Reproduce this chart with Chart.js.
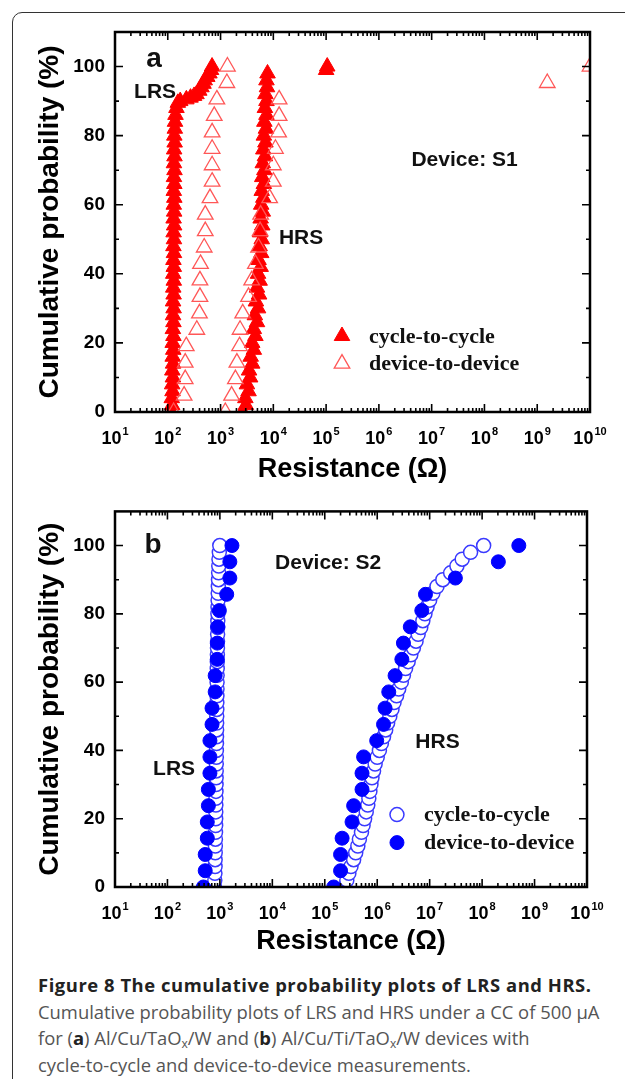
<!DOCTYPE html>
<html>
<head>
<meta charset="utf-8">
<script src="https://cdn.jsdelivr.net/npm/chart.js@4.4.1/dist/chart.umd.min.js"></script>
<style>
  html, body { margin: 0; padding: 0; background: #fff; }
  body { width: 625px; height: 1079px; overflow: hidden; position: relative; }
  #frame { position: absolute; left: 12px; top: 12px; width: 720px; height: 1100px; border: 1.5px solid #333; border-radius: 10px; }
  #chartA { position: absolute; left: 0; top: 0; }
  #chartB { position: absolute; left: 0; top: 490px; }
  #cap { position: absolute; left: 38px; top: 972px; font-family: "Open Sans", sans-serif; font-size: 18.4px; line-height: 26.5px; color: #555; white-space: nowrap; }
  #cap b { color: #222; font-weight: 700; }
  #cap .tit { letter-spacing: 0.55px; }
  #cap sub { font-size: 12px; vertical-align: -3px; line-height: 0; }
</style>
</head>
<body>
<div id="frame"></div>
<canvas id="chartA" width="625" height="490"></canvas>
<canvas id="chartB" width="625" height="470"></canvas>
<div id="cap"><b class="tit">Figure 8 The cumulative probability plots of LRS and HRS.</b><br>Cumulative probability plots of LRS and HRS under a CC of 500 µA<br>for (<b>a</b>) Al/Cu/TaO<sub>x</sub>/W and (<b>b</b>) Al/Cu/Ti/TaO<sub>x</sub>/W devices with<br>cycle-to-cycle and device-to-device measurements.</div>

<script>
// eixos
const xTickValues = [1e1, 1e2, 1e3, 1e4, 1e5, 1e6, 1e7, 1e8, 1e9, 1e10];
const xTickBase = "10";
const xTickExpoentes = ["1", "2", "3", "4", "5", "6", "7", "8", "9", "10"];
const yTickValues = [0, 20, 40, 60, 80, 100];

// (a) device S1 - cycle-to-cycle (triângulo cheio)
const probCycleLrsA = [0, 2, 4, 6, 8, 10, 12, 14, 16, 18, 20, 22, 24, 26, 28, 30, 32, 34, 36, 38, 40, 42, 44,
  46, 48, 50, 52, 54, 56, 58, 60, 62, 64, 66, 68, 70, 72, 74, 76, 78, 80, 82, 84, 86, 88,
  89.5, 90, 90.5, 91, 91.5, 92, 93, 94, 95, 96, 97, 98, 99, 100];
const resCycleLrsA = [117, 121, 119, 123, 121, 125, 122, 126, 124, 127, 124, 128, 125, 128, 126, 129, 126, 129,
  127, 130, 127, 130, 128, 131, 128, 131, 129, 132, 129, 132, 130, 133, 130, 133, 131, 134, 131, 134, 132, 135,
  133, 136, 137, 140, 146, 155, 172, 225, 270, 315, 350, 395, 435, 475, 500, 560, 615, 660, 690];
const probCycleHrsA = [0, 2, 4, 6, 8, 10, 12, 14, 16, 18, 20, 22, 24, 26, 28, 30, 32, 34, 36, 38, 40, 42, 44,
  46, 48, 50, 52, 54, 56, 58, 60, 62, 64, 66, 68, 70, 72, 74, 76, 78, 80, 82, 84, 86, 88, 90, 92, 94, 96, 98,
  99, 100];
const resCycleHrsA = [2630, 3020, 2950, 3390, 3160, 3630, 3470, 3980, 3720, 4270, 3980, 4570, 4270, 4900, 4470,
  5130, 4680, 5370, 4900, 5500, 5130, 5750, 5250, 5890, 5500, 6030, 5620, 6170, 5750, 6310, 5890, 6460, 6030,
  6610, 6170, 6760, 6310, 6920, 6460, 7080, 6610, 7240, 6760, 7410, 6920, 7410, 7080, 7590, 7410, 7760,
  1.0e5, 1.05e5];

// device-to-device: 22 dispositivos
const probDevice = [0, 4.76, 9.52, 14.29, 19.05, 23.81, 28.57, 33.33, 38.1, 42.86, 47.62, 52.38, 57.14, 61.9,
  66.67, 71.43, 76.19, 80.95, 85.71, 90.48, 95.24, 100];
const resDeviceLrsA = [129, 204, 214, 214, 224, 355, 398, 407, 407, 417, 490, 513, 513, 631, 692, 692, 692, 692,
  759, 851, 1318, 1349];
const resDeviceHrsA = [1230, 1620, 1910, 2040, 2290, 2340, 2630, 3390, 3890, 4570, 5250, 5620, 5750, 8510,
  10000, 10000, 10960, 12590, 12880, 12880, 1.55e9, 1.0e10];

// (b) device S2 - cycle-to-cycle (círculo aberto)
const probCycleB = [0, 2, 4, 6, 8, 10, 12, 14, 16, 18, 20, 22, 24, 26, 28, 30, 32, 34, 36, 38, 40, 42, 44, 46,
  48, 50, 52, 54, 56, 58, 60, 62, 64, 66, 68, 70, 72, 74, 76, 78, 80, 82, 84, 86, 88, 90, 92, 94, 96, 98, 100];
const resCycleLrsB = [790, 800, 805, 810, 812, 815, 820, 822, 826, 830, 832, 835, 838, 840, 843, 846, 848, 851,
  853, 856, 858, 861, 863, 866, 868, 871, 873, 876, 879, 881, 884, 887, 890, 893, 896, 899, 902, 905, 908, 912,
  916, 920, 924, 929, 934, 940, 946, 952, 960, 975, 995];
const resCycleHrsB = [2.40e5, 2.63e5, 2.88e5, 3.16e5, 3.55e5, 3.89e5, 4.27e5, 4.57e5, 5.01e5, 5.37e5, 5.75e5,
  6.17e5, 6.61e5, 6.92e5, 7.24e5, 7.59e5, 7.94e5, 8.51e5, 9.12e5, 1.0e6, 1.10e6, 1.20e6, 1.32e6, 1.45e6, 1.58e6,
  1.74e6, 1.91e6, 2.09e6, 2.34e6, 2.57e6, 2.88e6, 3.16e6, 3.47e6, 3.89e6, 4.37e6, 4.90e6, 5.50e6, 6.03e6, 6.76e6,
  7.41e6, 8.13e6, 8.91e6, 1.0e7, 1.15e7, 1.38e7, 1.78e7, 2.51e7, 3.31e7, 4.17e7, 6.03e7, 1.07e8];
const resDeviceLrsB = [484, 525, 525, 575, 575, 603, 603, 646, 646, 646, 708, 708, 813, 813, 891, 891, 912, 977,
  1349, 1549, 1549, 1698];
const resDeviceHrsB = [1.48e5, 2.0e5, 2.0e5, 2.14e5, 3.31e5, 3.55e5, 5.13e5, 5.13e5, 5.5e5, 9.77e5, 1.32e6,
  1.41e6, 1.66e6, 2.19e6, 2.95e6, 3.16e6, 4.27e6, 7.08e6, 8.32e6, 3.09e7, 2.04e8, 5.01e8];

const sans = '"Liberation Sans", Arial, sans-serif';
const serif = '"Liberation Serif", "Times New Roman", serif';

function pares(res, prob) {
  return res.map((r, i) => ({ x: r, y: prob[i] }));
}

function desenhaMarcador(ctx, estilo, x, y, r, fill, stroke, lw) {
  ctx.beginPath();
  if (estilo === "triangle") {
    ctx.moveTo(x, y - r);
    ctx.lineTo(x + 0.866 * r, y + 0.5 * r);
    ctx.lineTo(x - 0.866 * r, y + 0.5 * r);
    ctx.closePath();
  } else {
    ctx.arc(x, y, r, 0, Math.PI * 2);
  }
  if (fill) { ctx.fillStyle = fill; ctx.fill(); }
  ctx.lineWidth = lw;
  ctx.strokeStyle = stroke;
  ctx.stroke();
}

// moldura, ticks para dentro nos 4 lados e rótulos 10^n com expoente
const molduraEixos = {
  id: "molduraEixos",
  afterDatasetsDraw(chart) {
    const { ctx, chartArea: a, scales: { x, y } } = chart;
    ctx.save();
    ctx.strokeStyle = "#000";
    ctx.lineWidth = 1.6;
    ctx.beginPath();
    for (let e = 1; e <= 10; e++) {
      for (let m = 1; m <= 9; m++) {
        const v = m * Math.pow(10, e);
        if (v > x.max) break;
        const px = x.getPixelForValue(v);
        const len = m === 1 ? 8 : 4;
        ctx.moveTo(px, a.bottom); ctx.lineTo(px, a.bottom - len);
        ctx.moveTo(px, a.top); ctx.lineTo(px, a.top + len);
      }
    }
    for (let v = 10; v < 110; v += 10) {
      const py = y.getPixelForValue(v);
      const len = v % 20 === 0 ? 8 : 4;
      ctx.moveTo(a.left, py); ctx.lineTo(a.left + len, py);
      ctx.moveTo(a.right, py); ctx.lineTo(a.right - len, py);
    }
    ctx.stroke();
    ctx.lineWidth = 2.5;
    ctx.strokeRect(a.left, a.top, a.right - a.left, a.bottom - a.top);

    // rótulos do eixo x
    ctx.fillStyle = "#000";
    ctx.textAlign = "left";
    ctx.textBaseline = "alphabetic";
    const fBase = "bold 18px " + sans;
    const fExp = "bold 11px " + sans;
    const base = a.bottom + 32;
    xTickValues.forEach((v, i) => {
      ctx.font = fBase;
      const wb = ctx.measureText(xTickBase).width;
      ctx.font = fExp;
      const we = ctx.measureText(xTickExpoentes[i]).width;
      const x0 = x.getPixelForValue(v) - (wb + 1 + we) / 2;
      ctx.font = fBase;
      ctx.fillText(xTickBase, x0, base);
      ctx.font = fExp;
      ctx.fillText(xTickExpoentes[i], x0 + wb + 1, base - 9);
    });
    ctx.restore();
  },
};

function notas(rotulos, legenda) {
  return {
    id: "notas",
    afterDraw(chart) {
      const { ctx, scales: { x, y } } = chart;
      ctx.save();
      ctx.textBaseline = "middle";
      rotulos.forEach((l) => {
        ctx.font = l.font;
        ctx.fillStyle = "#111";
        ctx.textAlign = "center";
        ctx.fillText(l.text, x.getPixelForValue(l.x), y.getPixelForValue(l.y));
      });
      legenda.forEach((k) => {
        const px = x.getPixelForValue(k.x);
        const py = y.getPixelForValue(k.y);
        desenhaMarcador(ctx, k.style, px, py, k.r, k.fill, k.stroke, k.lw);
        ctx.font = "bold 22px " + serif;
        ctx.fillStyle = "#111";
        ctx.textAlign = "left";
        ctx.fillText(k.text, px + 27, py + 1);
      });
      ctx.restore();
    },
  };
}

function configGrafico(datasets, padding, alturaX, tituloPad, plugins) {
  return {
    type: "scatter",
    data: { datasets: datasets },
    options: {
      responsive: false,
      animation: false,
      devicePixelRatio: 1,
      layout: { padding: padding },
      plugins: { legend: { display: false }, tooltip: { enabled: false } },
      scales: {
        x: {
          type: "logarithmic",
          min: 10,
          max: 1e10,
          grid: { display: false, drawTicks: false },
          border: { display: false },
          afterBuildTicks: (s) => { s.ticks = xTickValues.map((v) => ({ value: v })); },
          afterFit: (s) => { s.height = alturaX; },
          ticks: { display: false },
          title: {
            display: true,
            text: "Resistance (Ω)",
            color: "#000",
            padding: { top: 0, bottom: tituloPad },
            font: { family: sans, size: 27, weight: "bold" },
          },
        },
        y: {
          min: 0,
          max: 110,
          grid: { display: false, drawTicks: false },
          border: { display: false },
          afterBuildTicks: (s) => { s.ticks = yTickValues.map((v) => ({ value: v })); },
          afterFit: (s) => { s.width = 85; },
          ticks: {
            padding: 10,
            color: "#000",
            font: { family: sans, size: 19, weight: "bold" },
          },
          title: {
            display: true,
            text: "Cumulative probability (%)",
            color: "#000",
            padding: { top: 3, bottom: 0 },
            font: { family: sans, size: 28, weight: "bold" },
          },
        },
      },
    },
    plugins: plugins,
  };
}

// Gráfico (a)
const vermelho = "#ff0000";
const rosa = "#ff5757";
const datasetsA = [
  { label: "device-to-device LRS", data: pares(resDeviceLrsA, probDevice), pointStyle: "triangle", pointRadius: 9,
    backgroundColor: "rgba(0,0,0,0)", borderColor: rosa, borderWidth: 1.3, order: 0 },
  { label: "device-to-device HRS", data: pares(resDeviceHrsA, probDevice), pointStyle: "triangle", pointRadius: 9,
    backgroundColor: "rgba(0,0,0,0)", borderColor: rosa, borderWidth: 1.3, order: 0 },
  { label: "cycle-to-cycle LRS", data: pares(resCycleLrsA, probCycleLrsA), pointStyle: "triangle", pointRadius: 9,
    backgroundColor: vermelho, borderColor: vermelho, borderWidth: 1, order: 1 },
  { label: "cycle-to-cycle HRS", data: pares(resCycleHrsA, probCycleHrsA), pointStyle: "triangle", pointRadius: 9,
    backgroundColor: vermelho, borderColor: vermelho, borderWidth: 1, order: 1 },
];
const rotulosA = [
  { text: "a", x: 55, y: 102, font: "bold 28px " + sans },
  { text: "LRS", x: 57.5, y: 92.6, font: "bold 21px " + sans },
  { text: "HRS", x: 33600, y: 50.3, font: "bold 21px " + sans },
  { text: "Device: S1", x: 4.2e7, y: 73, font: "bold 21px " + sans },
];
const legendaA = [
  { text: "cycle-to-cycle", x: 2.0e5, y: 22, style: "triangle", r: 9, fill: vermelho, stroke: vermelho, lw: 1 },
  { text: "device-to-device", x: 2.0e5, y: 14, style: "triangle", r: 9, fill: null, stroke: rosa, lw: 1.3 },
];
new Chart(document.getElementById("chartA"),
  configGrafico(datasetsA, { left: 30, right: 35, top: 32, bottom: 0 }, 78, 4,
    [molduraEixos, notas(rotulosA, legendaA)]));

// Gráfico (b)
const azul = "#0000ff";
const azulClaro = "#3a3aff";
const datasetsB = [
  { label: "device-to-device LRS", data: pares(resDeviceLrsB, probDevice), pointStyle: "circle", pointRadius: 7,
    backgroundColor: azul, borderColor: azul, borderWidth: 1, order: 0 },
  { label: "device-to-device HRS", data: pares(resDeviceHrsB, probDevice), pointStyle: "circle", pointRadius: 7,
    backgroundColor: azul, borderColor: azul, borderWidth: 1, order: 0 },
  { label: "cycle-to-cycle LRS", data: pares(resCycleLrsB, probCycleB), pointStyle: "circle", pointRadius: 7,
    backgroundColor: "#fff", borderColor: azulClaro, borderWidth: 1.5, order: 1 },
  { label: "cycle-to-cycle HRS", data: pares(resCycleHrsB, probCycleB), pointStyle: "circle", pointRadius: 7,
    backgroundColor: "#fff", borderColor: azulClaro, borderWidth: 1.5, order: 1 },
];
const rotulosB = [
  { text: "b", x: 53, y: 100, font: "bold 28px " + sans },
  { text: "Device: S2", x: 1.16e5, y: 94.8, font: "bold 21px " + sans },
  { text: "LRS", x: 134, y: 34.6, font: "bold 21px " + sans },
  { text: "HRS", x: 1.41e7, y: 42.3, font: "bold 21px " + sans },
];
const legendaB = [
  { text: "cycle-to-cycle", x: 2.38e6, y: 21.2, style: "circle", r: 7, fill: "#fff", stroke: azulClaro, lw: 1.5 },
  { text: "device-to-device", x: 2.38e6, y: 13, style: "circle", r: 7, fill: azul, stroke: azul, lw: 1 },
];
new Chart(document.getElementById("chartB"),
  configGrafico(datasetsB, { left: 30, right: 38, top: 17, bottom: 0 }, 73, 2,
    [molduraEixos, notas(rotulosB, legendaB)]));
</script>
</body>
</html>
